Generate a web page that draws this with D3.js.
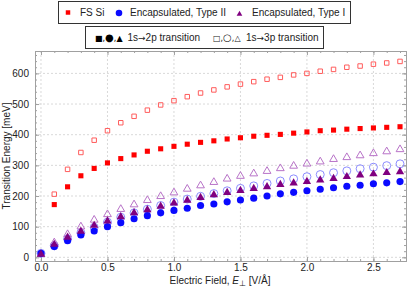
<!DOCTYPE html>
<html><head><meta charset="utf-8">
<script src="https://cdn.jsdelivr.net/npm/d3@7"></script>
<style>body{margin:0;background:#fff}svg{display:block;font-family:"Liberation Sans",Arial,sans-serif}</style>
</head><body><svg id="c" width="407" height="288"></svg>
<script>
const fields = [0,0.1,0.2,0.3,0.4,0.5,0.6,0.7,0.8,0.9,1.0,1.1,1.2,1.3,1.4,1.5,1.6,1.7,1.8,1.9,2.0,2.1,2.2,2.3,2.4,2.5,2.6,2.7];
const fsSi2p   = [null,172,230,266,290,308,322,334,346,354,362,369,375,380,386,390,395,398,401,405,409,413,415,418,420,422,424,426];
const fsSi3p   = [null,206,287,342,382,413,439,460,480,497,511,524,536,546,556,565,573,581,587,595,600,607,613,620,624,630,634,639];
const typeII2p = [13,35,54,73,86,100,113,126,136,145,153,160,169,174,181,187,193,200,207,212,217,222,227,232,235,240,243,247];
const typeII3p = [13,38,60,80,98,115,131,145,157,169,180,190,199,208,217,225,233,241,249,256,263,270,276,282,289,294,299,305];
const typeI2p  = [10,42,65,85,104,118,132,145,155,166,177,186,195,204,211,218,224,230,237,242,247,252,257,263,268,272,276,279];
const typeI3p  = [10,48,75,100,122,140,157,172,186,199,211,223,234,245,256,265,273,281,290,298,305,312,320,326,332,339,345,352];
const xTicks = [0,0.5,1.0,1.5,2.0,2.5];
const yTicks = [0,100,200,300,400,500,600];

const svg = d3.select("#c");
const L=35,R=406,T=51,B=261;
const x = d3.scaleLinear().domain([-0.045,2.745]).range([L,R]);
const y = d3.scaleLinear().domain([-12,673]).range([B,T]);

// grid
const g = svg.append("g");
g.selectAll("line.gx").data(xTicks).enter().append("line")
 .attr("x1",d=>x(d)).attr("x2",d=>x(d)).attr("y1",T).attr("y2",B)
 .attr("stroke","#d9d9d9").attr("stroke-dasharray","2,2").attr("stroke-width",1);
g.selectAll("line.gy").data(yTicks).enter().append("line")
 .attr("x1",L).attr("x2",R).attr("y1",d=>y(d)).attr("y2",d=>y(d))
 .attr("stroke","#d9d9d9").attr("stroke-dasharray","2,2").attr("stroke-width",1);

// axes
const xMinor = d3.range(0,28).map(i=>i/10);
const yMinor = d3.range(0,34).map(i=>i*20);
const axStyle = sel=>{sel.select(".domain").attr("stroke","#a0a0a0");sel.selectAll(".tick line").attr("stroke","#a0a0a0");sel.selectAll("text").attr("fill","#222").style("font-size","10px");};
svg.append("g").attr("transform",`translate(0,${B})`).call(d3.axisBottom(x).tickValues(xMinor).tickSize(-2).tickFormat("")).call(axStyle);
svg.append("g").attr("transform",`translate(0,${B})`).call(d3.axisBottom(x).tickValues(xTicks).tickSize(-4).tickPadding(3).tickFormat(d3.format(".1f"))).call(axStyle);
svg.append("g").attr("transform",`translate(0,${T})`).call(d3.axisTop(x).tickValues(xMinor).tickSize(-2).tickFormat("")).call(axStyle);
svg.append("g").attr("transform",`translate(0,${T})`).call(d3.axisTop(x).tickValues(xTicks).tickSize(-4).tickFormat("")).call(axStyle);
svg.append("g").attr("transform",`translate(${L},0)`).call(d3.axisLeft(y).tickValues(yMinor).tickSize(-2).tickFormat("")).call(axStyle);
svg.append("g").attr("transform",`translate(${L},0)`).call(d3.axisLeft(y).tickValues(yTicks).tickSize(-4).tickPadding(6)).call(axStyle);
svg.append("g").attr("transform",`translate(${R},0)`).call(d3.axisRight(y).tickValues(yMinor).tickSize(-2).tickFormat("")).call(axStyle);
svg.append("g").attr("transform",`translate(${R},0)`).call(d3.axisRight(y).tickValues(yTicks).tickSize(-4).tickFormat("")).call(axStyle);

// points
const pts = arr => fields.map((f,i)=>({f,v:arr[i]})).filter(d=>d.v!=null);
const sq = d3.symbol().type(d3.symbolSquare);
const ci = d3.symbol().type(d3.symbolCircle);
const tr = d3.symbol().type(d3.symbolTriangle);
function plot(arr, sym, size, fill, stroke){
  svg.append("g").selectAll("path").data(pts(arr)).enter().append("path")
   .attr("d",sym.size(size)()).attr("transform",d=>`translate(${x(d.f)},${y(d.v)})`)
   .attr("fill",fill).attr("stroke",stroke).attr("stroke-width",stroke=="none"?0:1);
}
plot(typeII3p, ci, 50, "none", "#8c8cff");
plot(typeI3p, tr, 26, "none", "#b873c8");
plot(fsSi3p, sq, 20, "none", "#ff5c5c");
plot(typeII2p, ci, 40, "#0a0aff", "none");
plot(typeI2p, tr, 30, "#800080", "none");
plot(fsSi2p, sq, 26, "#ff0000", "none");

// axis titles
svg.append("text").attr("x",220).attr("y",284).attr("text-anchor","middle").attr("fill","#222").style("font-size","10px")
 .html('Electric Field, <tspan font-style="italic">E</tspan><tspan font-size="8px" dy="2">⊥</tspan><tspan dy="-2"> [V/Å]</tspan>');
svg.append("text").attr("transform","translate(10,156) rotate(-90)").attr("text-anchor","middle").attr("fill","#222").style("font-size","10px")
 .text("Transition Energy [meV]");

// legends
const leg1 = svg.append("g");
leg1.append("rect").attr("x",58.5).attr("y",1.5).attr("width",292).attr("height",22).attr("fill","#fff").attr("stroke","#333");
leg1.append("path").attr("d",sq.size(20)()).attr("transform","translate(68,12.5)").attr("fill","#ff0000");
leg1.append("text").attr("x",80).attr("y",16).style("font-size","10px").attr("fill","#222").text("FS Si");
leg1.append("path").attr("d",ci.size(34)()).attr("transform","translate(119,13)").attr("fill","#0a0aff");
leg1.append("text").attr("x",130).attr("y",16).style("font-size","10px").attr("fill","#222").text("Encapsulated, Type II");
leg1.append("path").attr("d",tr.size(14)()).attr("transform","translate(239.5,14)").attr("fill","#800080");
leg1.append("text").attr("x",252).attr("y",16).style("font-size","10px").attr("fill","#222").text("Encapsulated, Type I");

const leg2 = svg.append("g");
leg2.append("rect").attr("x",85.5).attr("y",26.5).attr("width",238).attr("height",22).attr("fill","#fff").attr("stroke","#333");
leg2.append("text").attr("x",95).attr("y",41).style("font-size","8px").attr("fill","#000").style("font-family","DejaVu Sans")
 .html('■,<tspan font-size="10px">●</tspan>,▲');
leg2.append("text").attr("x",127.5).attr("y",41).style("font-size","10px").attr("fill","#222")
 .html('1s<tspan font-family="DejaVu Sans" font-size="9px">→</tspan>2p transition');
leg2.append("text").attr("x",213).attr("y",41).style("font-size","8px").attr("fill","#222").style("font-family","DejaVu Sans")
 .html('□,<tspan font-size="10px">○</tspan>,△');
leg2.append("text").attr("x",246).attr("y",41).style("font-size","10px").attr("fill","#222")
 .html('1s<tspan font-family="DejaVu Sans" font-size="9px">→</tspan>3p transition');
</script></body></html>
